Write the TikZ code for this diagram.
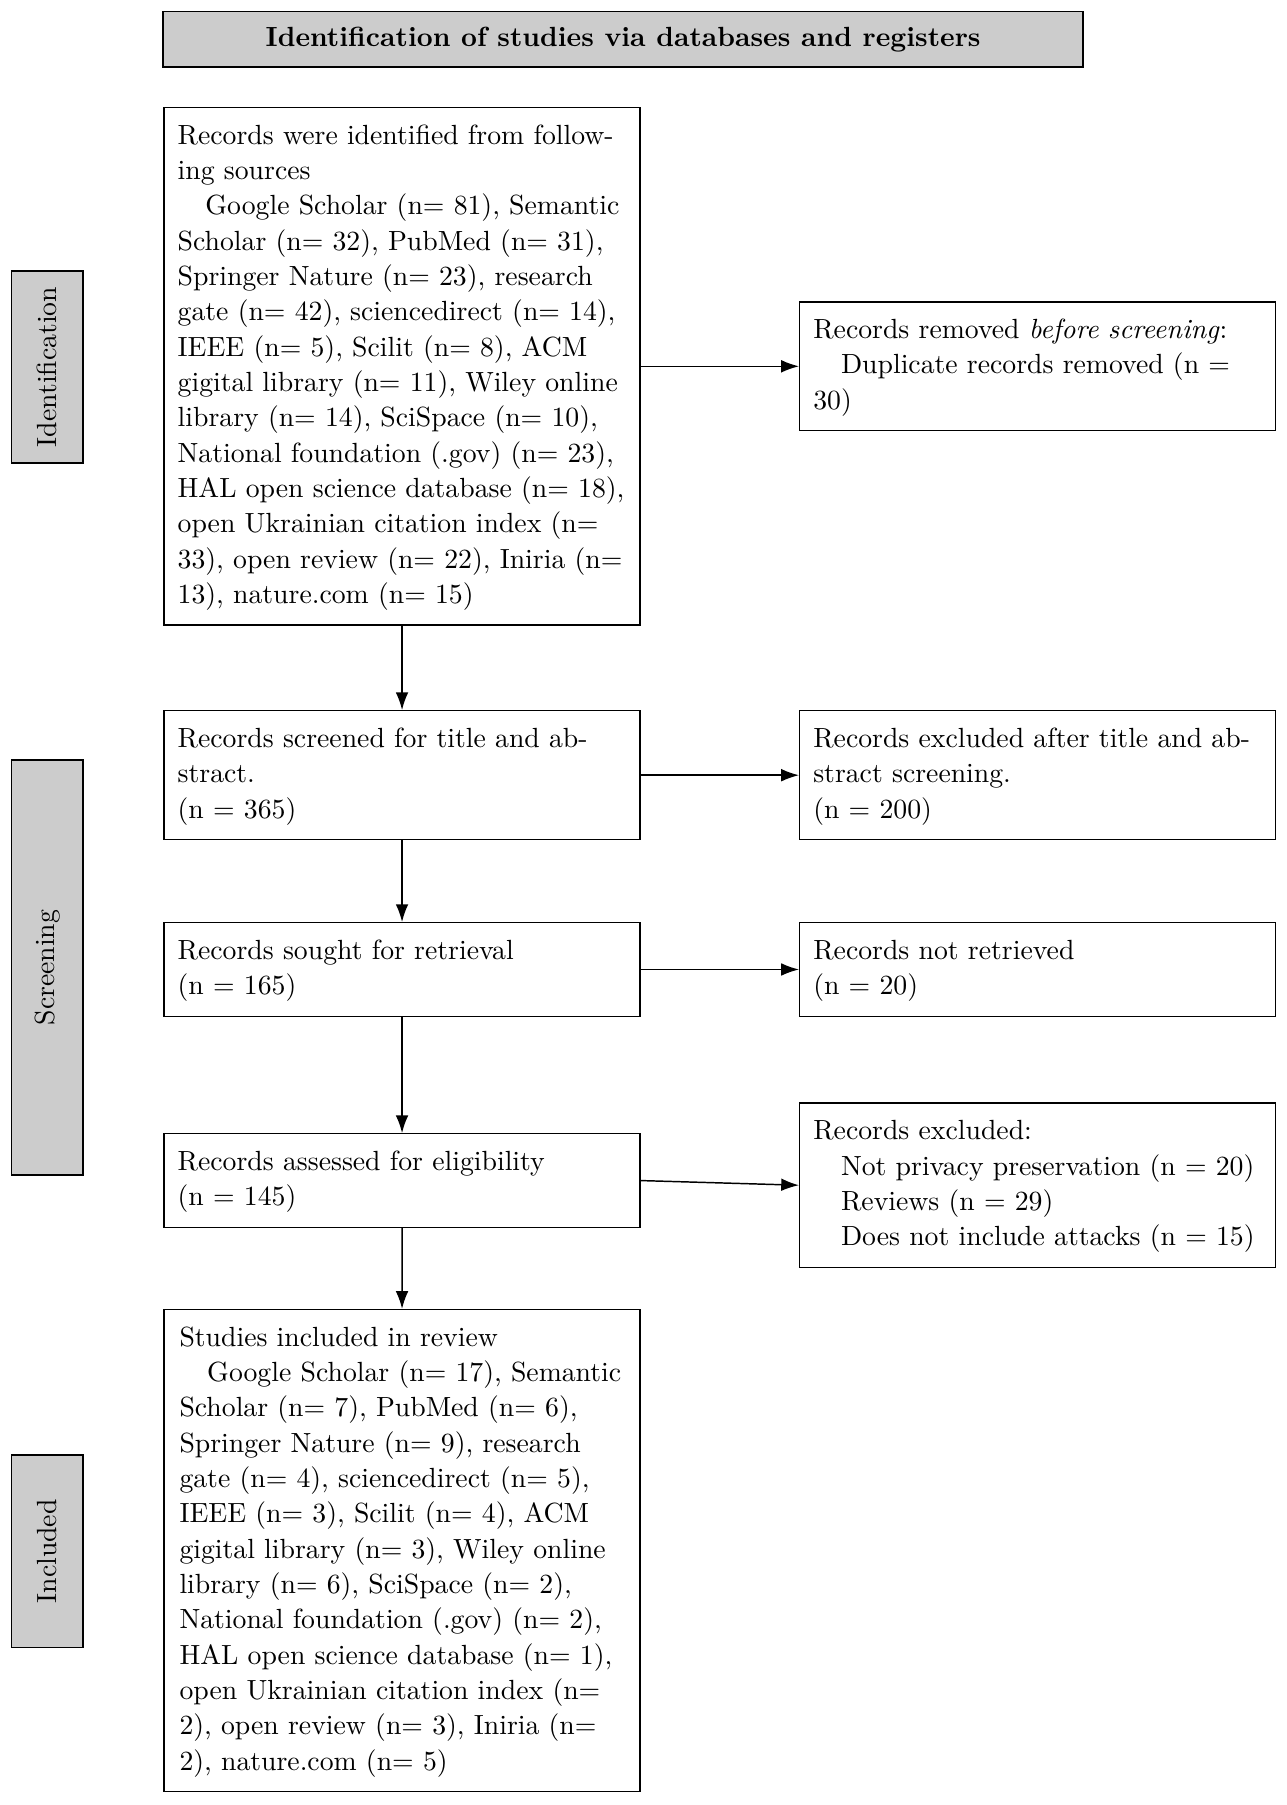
\documentclass[tikz,border=0pt]{standalone}
\usetikzlibrary{arrows.meta}
\newcommand{\tbx}{\rule{0pt}{13.2pt}}
\newcommand{\bbx}{\rule[-7.8pt]{0pt}{7.8pt}}
\newcommand{\ind}{\hspace*{1em}}
\begin{document}
\begin{tikzpicture}[
  basefont/.style={font=\fontsize{10pt}{12.74pt}\selectfont},
  flowbox/.style={draw, rectangle, line width=0.48pt, text width=161.8pt, inner xsep=4.92pt, inner ysep=0pt, align=left, basefont},
  narrowtext/.style={text width=160.5pt, inner xsep=5.57pt},
  phasebox/.style={draw, fill=black!20, line width=0.64pt, rotate=90, minimum height=25.8pt, inner sep=0pt, basefont},
  titlebox/.style={draw, fill=black!20, line width=0.64pt, minimum width=331.6pt, minimum height=20.06pt, inner sep=0pt, font=\fontsize{10pt}{12.74pt}\selectfont\bfseries},
  flowarrow/.style={line width=0.53pt, -{Latex[length=6.4pt,width=4.56pt]}}
]
\useasboundingbox (0,0) rectangle (464.1pt,-650.9pt);

\node[titlebox] (title) at (224.7pt,-14.17pt) {Identification of studies via databases and registers};

\node[phasebox, minimum width=69.4pt] (ident) at (17.04pt,-132.3pt) {Identification};
\node[phasebox, minimum width=149.6pt] (screen) at (17.04pt,-348.9pt) {Screening};
\node[phasebox, minimum width=69.4pt] (incl) at (17.04pt,-559.4pt) {Included};

\node[flowbox, anchor=north west] (records) at (58.92pt,-38.54pt) {\tbx Records were identified from following sources\\\ind Google Scholar (n= 81), Semantic Scholar (n= 32), PubMed (n= 31), Springer Nature (n= 23), research gate (n= 42), sciencedirect (n= 14), IEEE (n= 5), Scilit (n= 8), ACM gigital library (n= 11), Wiley online library (n= 14), SciSpace (n= 10), National foundation (.gov) (n= 23), HAL open science database (n= 18), open Ukrainian citation index (n= 33), open review (n= 22), Iniria (n= 13), nature.com (n= 15)\bbx};

\node[flowbox, anchor=north west] (screened) at (58.92pt,-256.06pt) {\tbx Records screened for title and abstract.\\(n = 365)\bbx};
\node[flowbox, anchor=north west] (sought) at (58.92pt,-332.49pt) {\tbx Records sought for retrieval\\(n = 165)\bbx};
\node[flowbox, anchor=north west] (assessed) at (58.92pt,-408.61pt) {\tbx Records assessed for eligibility\\(n = 145)\bbx};
\node[flowbox, narrowtext, anchor=north west] (included) at (58.92pt,-471.99pt) {\tbx Studies included in review\\\ind Google Scholar (n= 17), Semantic Scholar (n= 7), PubMed (n= 6), Springer Nature (n= 9), research gate (n= 4), sciencedirect (n= 5), IEEE (n= 3), Scilit (n= 4), ACM gigital library (n= 3), Wiley online library (n= 6), SciSpace (n= 2), National foundation (.gov) (n= 2), HAL open science database (n= 1), open Ukrainian citation index (n= 2), open review (n= 3), Iniria (n= 2), nature.com (n= 5)\bbx};

\node[flowbox, anchor=west] (removed) at (288.12pt,0 |- records.east) {\tbx Records removed \emph{before screening}:\\\ind Duplicate records removed (n = 30)\bbx};
\node[flowbox, anchor=west] (excltitle) at (288.12pt,0 |- screened.east) {\tbx Records excluded after title and abstract screening.\\(n = 200)\bbx};
\node[flowbox, anchor=west] (notret) at (288.12pt,0 |- sought.east) {\tbx Records not retrieved\\(n = 20)\bbx};
\node[flowbox, anchor=west] (excluded) at (288.12pt,-427.4pt) {\tbx Records excluded:\\\ind Not privacy preservation (n = 20)\\\ind Reviews (n = 29)\\\ind Does not include attacks (n = 15)\bbx};

\draw[flowarrow] (records.south) -- (screened.north);
\draw[flowarrow] (screened.south) -- (sought.north);
\draw[flowarrow] (sought.south) -- (assessed.north);
\draw[flowarrow] (assessed.south) -- (included.north);
\draw[flowarrow] (records.east) -- (removed.west);
\draw[flowarrow] (screened.east) -- (excltitle.west);
\draw[flowarrow] (sought.east) -- (notret.west);
\draw[flowarrow] (assessed.east) -- (excluded.west);
\end{tikzpicture}
\end{document}
